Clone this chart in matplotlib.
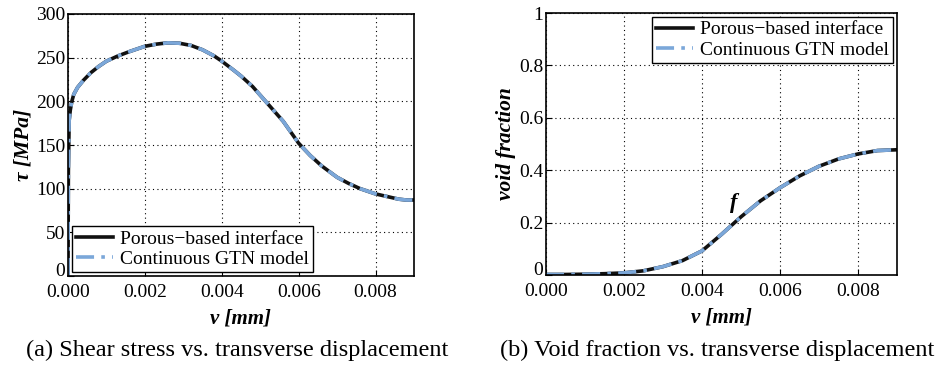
import matplotlib
matplotlib.use('Agg')
import matplotlib.pyplot as plt
import numpy as np

# Shear stress curve (a)
v_tau = [0.0, 0.00001, 0.00003, 0.00006, 0.0001, 0.00015, 0.00025, 0.0004, 0.0006,
         0.0008, 0.001, 0.0013, 0.0016, 0.002, 0.0023, 0.0026, 0.0029, 0.0032,
         0.0035, 0.0038, 0.004, 0.0043, 0.0045, 0.0048, 0.005, 0.0053, 0.0056,
         0.006, 0.0063, 0.0066, 0.007, 0.0073, 0.0076, 0.008, 0.0083, 0.0086,
         0.0088, 0.009]
tau = [0, 120, 178, 190, 200, 208, 216, 224, 233, 240, 246, 252, 257, 263, 265.5,
       267, 266.5, 264, 259, 252, 246, 236, 229, 217, 207, 192, 177, 152, 138,
       126, 113, 106, 100, 94, 91, 88, 87, 87]

# Void fraction curve (b)
v_f = [0.0, 0.0005, 0.001, 0.0015, 0.002, 0.0025, 0.003, 0.0035, 0.004, 0.0045,
       0.005, 0.0055, 0.006, 0.0065, 0.007, 0.0075, 0.008, 0.0085, 0.009]
f = [0.002, 0.002, 0.003, 0.005, 0.008, 0.016, 0.032, 0.055, 0.092, 0.155,
     0.222, 0.283, 0.333, 0.378, 0.415, 0.443, 0.462, 0.475, 0.478]

labels = ['Porous\u2212based interface', 'Continuous GTN model']
black = '#111111'
blue = '#7ba7d9'

plt.rcParams['font.family'] = ['Liberation Serif', 'DejaVu Serif']
plt.rcParams['font.size'] = 14

fig = plt.figure(figsize=(9.41, 3.68), dpi=100)
ax1 = fig.add_axes([68 / 941, 1 - 276 / 368, 346 / 941, 262 / 368])
ax2 = fig.add_axes([546 / 941, 1 - 275 / 368, 351 / 941, 262 / 368])

leg_kw = dict(fontsize=14, frameon=True, fancybox=False, edgecolor='black',
              framealpha=1, borderpad=0.2, handlelength=1.9, handletextpad=0.4,
              labelspacing=0.15, borderaxespad=0.2)

for ax in (ax1, ax2):
    ax.grid(True, linestyle=(0, (1, 3)), color='black', linewidth=0.8)
    ax.tick_params(direction='in', length=4, width=0.8, labelsize=14, pad=2)
    ax.tick_params(axis='x', pad=6)
    ax.set_xlim(0, 0.009)
    ax.set_xticks([0, 0.002, 0.004, 0.006, 0.008])
    ax.set_xticklabels(['0.000', '0.002', '0.004', '0.006', '0.008'])
    for s in ax.spines.values():
        s.set_linewidth(1.2)
    ax.set_xlabel('v [mm]', fontweight='bold', fontstyle='italic', fontsize=15, labelpad=5)

ax1.plot(v_tau, tau, color=black, lw=2.6, label=labels[0])
ax1.plot(v_tau, tau, color=blue, lw=2.6, linestyle=(0, (5, 2, 1, 2)), label=labels[1])
ax1.set_ylim(0, 300)
ax1.set_yticks(range(0, 301, 50))
ax1.set_ylabel('\u03c4 [MPa]', fontweight='bold', fontstyle='italic', fontsize=15.5, labelpad=2)
lg = ax1.legend(loc='lower left', **leg_kw)
lg.get_frame().set_linewidth(1.0)

ax2.plot(v_f, f, color=black, lw=2.6, label=labels[0])
ax2.plot(v_f, f, color=blue, lw=2.6, linestyle=(0, (5, 2, 1, 2)), label=labels[1])
ax2.set_ylim(0, 1)
ax2.set_yticks([0, 0.2, 0.4, 0.6, 0.8, 1])
ax2.set_yticklabels(['0', '0.2', '0.4', '0.6', '0.8', '1'])
ax2.set_ylabel('void fraction', fontweight='bold', fontstyle='italic', fontsize=15.5, labelpad=2)
ax2.text(0.00473, 0.255, 'f', fontweight='bold', fontstyle='italic', fontsize=16)
lg = ax2.legend(loc='upper right', **leg_kw)
lg.get_frame().set_linewidth(1.0)

# lift the y "0" labels a little so they sit clear of "0.000"
for ax in (ax1, ax2):
    ax.get_yticklabels()[0].set_verticalalignment('baseline')

fig.text(237 / 941, 1 - 350 / 368, '(a) Shear stress vs. transverse displacement',
         ha='center', va='center', fontsize=17.5)
fig.text(717 / 941, 1 - 350 / 368, '(b) Void fraction vs. transverse displacement',
         ha='center', va='center', fontsize=17.5)

fig.savefig('out.png', dpi=100)
